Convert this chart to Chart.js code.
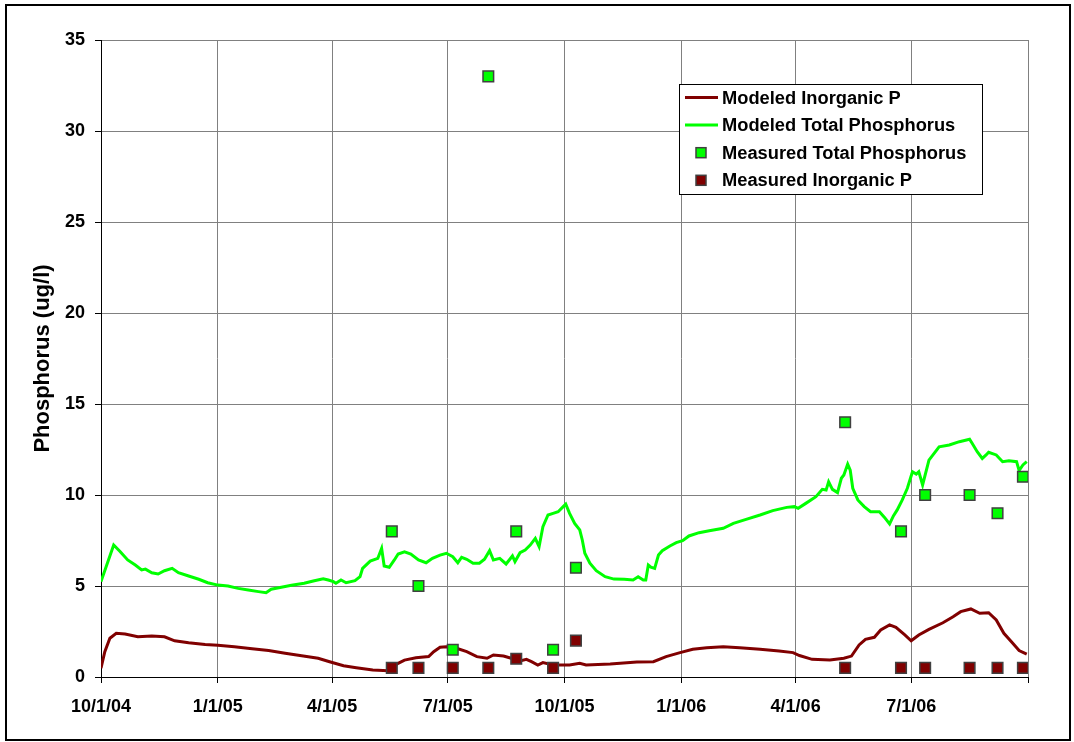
<!DOCTYPE html>
<html>
<head>
<meta charset="utf-8">
<script src="https://cdn.jsdelivr.net/npm/chart.js@4/dist/chart.umd.min.js"></script>
<style>
  html, body { margin: 0; padding: 0; background: #fff; }
  #wrap { width: 1074px; height: 742px; }
</style>
</head>
<body>
<div id="wrap"><canvas id="chart" width="1074" height="742"></canvas></div>
<script>
// x values are days since 10/1/04
const tickDays = [0, 92, 182, 273, 365, 457, 547, 638, 730];
const tickLabels = ['10/1/04', '1/1/05', '4/1/05', '7/1/05', '10/1/05', '1/1/06', '4/1/06', '7/1/06', ''];

const modeledTPDays = [0, 10, 15, 21, 27, 32, 35, 40, 45, 50, 56, 61, 69, 77, 84, 92, 100, 108, 116, 124, 130, 134,
  142, 150, 160, 168, 175, 179, 183, 185, 189, 193, 200, 204, 206, 212, 218, 221, 223, 227, 231, 234, 239, 244, 250,
  256, 261, 267, 272, 277, 281, 284, 288, 293, 298, 302, 306, 309, 314, 319, 324, 326, 330, 334, 338, 342, 345, 348,
  352, 356, 360, 364, 366, 369, 373, 377, 379, 381, 385, 390, 397, 404, 412, 419, 423, 427, 429, 431, 433, 436, 439,
  442, 448, 453, 458, 463, 471, 479, 490, 498, 508, 519, 529, 540, 546, 549, 555, 563, 568, 571, 573, 576, 580, 583,
  585, 588, 590, 592, 596, 601, 606, 613, 617, 621, 624, 627, 631, 635, 639, 642, 644, 647, 652, 660, 668, 676, 684,
  686, 690, 694, 697, 699, 705, 710, 715, 721, 723, 726, 729];
const modeledTP = [5.24, 7.25, 6.9, 6.43, 6.15, 5.88, 5.93, 5.73, 5.66, 5.84, 5.97, 5.73, 5.55, 5.37, 5.18, 5.05, 5.0,
  4.87, 4.78, 4.69, 4.63, 4.82, 4.93, 5.04, 5.15, 5.29, 5.4, 5.33, 5.24, 5.15, 5.33, 5.18, 5.29, 5.51, 5.97, 6.37, 6.52,
  7.07, 6.1, 6.03, 6.43, 6.76, 6.88, 6.76, 6.43, 6.28, 6.52, 6.7, 6.8, 6.61, 6.28, 6.58, 6.47, 6.25, 6.25, 6.47, 6.94,
  6.43, 6.52, 6.21, 6.65, 6.34, 6.83, 6.98, 7.25, 7.62, 7.16, 8.26, 8.9, 8.99, 9.08, 9.36, 9.5, 8.99, 8.44, 8.08, 7.53,
  6.8, 6.25, 5.84, 5.51, 5.38, 5.37, 5.33, 5.51, 5.33, 5.33, 6.15, 6.03, 5.97, 6.7, 6.94, 7.2, 7.38, 7.49, 7.75, 7.93,
  8.04, 8.17, 8.44, 8.66, 8.9, 9.14, 9.32, 9.36, 9.27, 9.54, 9.91, 10.31, 10.27, 10.73, 10.31, 10.13, 10.92, 11.1, 11.7,
  11.37, 10.37, 9.73, 9.36, 9.08, 9.08, 8.77, 8.41, 8.85, 9.18, 9.73, 10.37, 11.28, 11.15, 11.28, 10.55, 11.92, 12.65,
  12.75, 12.93, 13.06, 12.84, 12.38, 12.01, 12.2, 12.35, 12.2, 11.83, 11.88, 11.83, 11.34, 11.65, 11.83];

const modeledIPDays = [0, 3, 7, 12, 19, 29, 40, 50, 58, 69, 82, 92, 105, 119, 132, 145, 158, 171, 180, 191, 201, 214,
  226, 234, 239, 248, 258, 262, 267, 272, 280, 288, 296, 304, 309, 317, 323, 330, 335, 339, 344, 348, 356, 369, 377,
  382, 401, 422, 435, 445, 456, 466, 477, 490, 503, 519, 534, 545, 550, 560, 574, 585, 591, 597, 602, 609, 614, 621,
  626, 633, 638, 644, 652, 663, 671, 677, 685, 692, 699, 705, 711, 718, 723, 729];
const modeledIP = [0.48, 1.39, 2.13, 2.4, 2.36, 2.21, 2.25, 2.21, 1.99, 1.88, 1.79, 1.74, 1.66, 1.55, 1.45, 1.3, 1.17,
  1.03, 0.84, 0.62, 0.51, 0.38, 0.35, 0.75, 0.93, 1.06, 1.12, 1.39, 1.63, 1.66, 1.58, 1.39, 1.12, 1.03, 1.21, 1.15,
  1.03, 0.88, 0.97, 0.84, 0.66, 0.79, 0.66, 0.66, 0.75, 0.66, 0.71, 0.82, 0.84, 1.12, 1.34, 1.52, 1.61, 1.66, 1.61,
  1.52, 1.43, 1.34, 1.18, 0.97, 0.93, 1.03, 1.15, 1.76, 2.07, 2.18, 2.58, 2.86, 2.73, 2.31, 1.99, 2.31, 2.62, 2.98,
  3.31, 3.59, 3.74, 3.5, 3.53, 3.13, 2.4, 1.85, 1.45, 1.26];

const measuredTPDays = [229, 250, 277, 305, 327, 356, 374, 586, 630, 649, 684, 706, 726];
const measuredTP = [8, 5, 1.5, 33, 8, 1.5, 6, 14, 8, 10, 10, 9, 11];

const measuredIPDays = [229, 250, 277, 305, 327, 356, 374, 586, 630, 649, 684, 706, 726];
const measuredIP = [0.5, 0.5, 0.5, 0.5, 1, 0.5, 2, 0.5, 0.5, 0.5, 0.5, 0.5, 0.5];

const pairs = (xs, ys) => xs.map((x, i) => ({ x, y: ys[i] }));

const FONT = 'Arial, "Liberation Sans", sans-serif';
const legendOrder = [2, 3, 0, 1];

const frame = {
  id: 'frame',
  afterDraw(chart) {
    const { ctx } = chart;
    ctx.save();
    ctx.strokeStyle = '#000';
    ctx.lineWidth = 2;
    ctx.strokeRect(6, 5, 1064, 735);
    ctx.restore();
  },
};

const boxLegend = {
  id: 'boxLegend',
  afterDraw(chart) {
    const { ctx } = chart;
    const x0 = 679, y0 = 84, w = 303, h = 110;
    ctx.save();
    ctx.fillStyle = '#fff';
    ctx.fillRect(x0, y0, w, h);
    ctx.strokeStyle = '#000';
    ctx.lineWidth = 1;
    ctx.strokeRect(x0 + 0.5, y0 + 0.5, w, h);
    ctx.font = 'bold 18.3px ' + FONT;
    ctx.textBaseline = 'middle';
    legendOrder.forEach((idx, row) => {
      const ds = chart.data.datasets[idx];
      const y = y0 + 13.5 + row * 27.6;
      if (ds.showLine) {
        ctx.strokeStyle = ds.borderColor;
        ctx.lineWidth = 3;
        ctx.beginPath();
        ctx.moveTo(685, y);
        ctx.lineTo(718, y);
        ctx.stroke();
      } else {
        ctx.fillStyle = ds.pointBackgroundColor;
        ctx.fillRect(696, y - 5, 10, 10);
        ctx.strokeStyle = ds.pointBorderColor;
        ctx.lineWidth = 1.5;
        ctx.strokeRect(696, y - 5, 10, 10);
      }
      ctx.fillStyle = '#000';
      ctx.fillText(ds.label, 722, y + 1);
    });
    ctx.restore();
  },
};

new Chart(document.getElementById('chart'), {
  type: 'scatter',
  data: {
    datasets: [
      {
        label: 'Measured Total Phosphorus',
        data: pairs(measuredTPDays, measuredTP),
        showLine: false,
        pointStyle: 'rect',
        pointRadius: 7.5,
        pointBackgroundColor: '#00ff00',
        pointBorderColor: '#404040',
        pointBorderWidth: 1.5,
      },
      {
        label: 'Measured Inorganic P',
        data: pairs(measuredIPDays, measuredIP),
        showLine: false,
        pointStyle: 'rect',
        pointRadius: 7.5,
        pointBackgroundColor: '#800000',
        pointBorderColor: '#404040',
        pointBorderWidth: 1.5,
      },
      {
        label: 'Modeled Inorganic P',
        data: pairs(modeledIPDays, modeledIP),
        showLine: true,
        borderColor: '#800000',
        borderWidth: 3,
        pointRadius: 0,
        tension: 0,
      },
      {
        label: 'Modeled Total Phosphorus',
        data: pairs(modeledTPDays, modeledTP),
        showLine: true,
        borderColor: '#00ff00',
        borderWidth: 3,
        pointRadius: 0,
        tension: 0,
      },
    ],
  },
  options: {
    responsive: false,
    animation: false,
    layout: { padding: { left: 0, top: 40, right: 46, bottom: 0 } },
    plugins: {
      legend: { display: false },
      tooltip: { enabled: false },
    },
    scales: {
      x: {
        type: 'linear',
        min: 0,
        max: 730,
        afterBuildTicks: (scale) => {
          scale.ticks = tickDays.map((v) => ({ value: v }));
        },
        afterFit: (scale) => {
          scale.height = 65;
        },
        ticks: {
          autoSkip: false,
          maxRotation: 0,
          padding: 13,
          color: '#000',
          font: { family: FONT, size: 18, weight: 'bold' },
          callback: (v) => {
            const i = tickDays.indexOf(v);
            return i >= 0 ? tickLabels[i] : '';
          },
        },
        grid: { color: '#808080', tickColor: '#000', tickLength: 6, lineWidth: 1 },
        border: { color: '#000', width: 1 },
      },
      y: {
        min: 0,
        max: 35,
        afterFit: (scale) => {
          scale.width = 101;
        },
        ticks: {
          stepSize: 5,
          padding: 10,
          color: '#000',
          font: { family: FONT, size: 18, weight: 'bold' },
        },
        grid: { color: '#808080', tickColor: '#000', tickLength: 6, lineWidth: 1 },
        border: { color: '#000', width: 1 },
        title: {
          display: true,
          text: 'Phosphorus (ug/l)',
          color: '#000',
          font: { family: FONT, size: 22, weight: 'bold' },
          padding: { top: 30, bottom: 0 },
        },
      },
    },
  },
  plugins: [frame, boxLegend],
});
</script>
</body>
</html>
